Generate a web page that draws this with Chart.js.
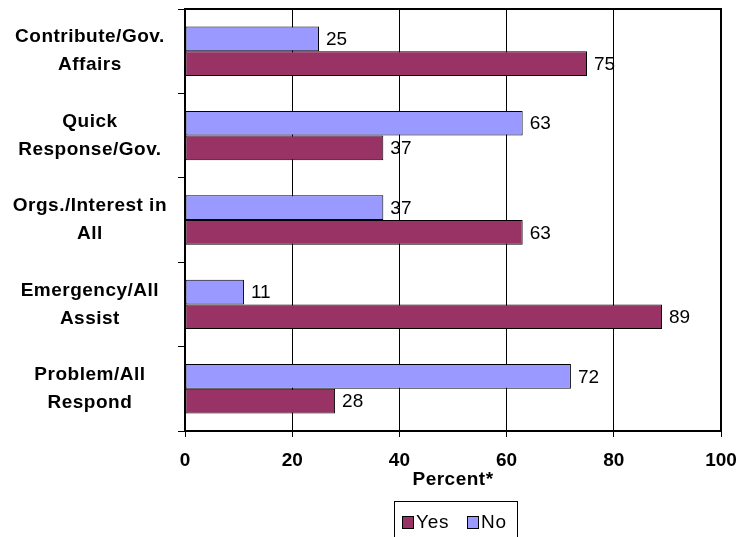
<!DOCTYPE html>
<html>
<head>
<meta charset="utf-8">
<script src="https://cdn.jsdelivr.net/npm/chart.js@4/dist/chart.umd.min.js"></script>
<style>
  html, body { margin: 0; padding: 0; background: #fff; overflow: hidden; }
  #wrap { position: relative; width: 739px; height: 537px; overflow: hidden; }
  #legend {
    position: absolute; left: 394px; top: 501px; width: 124px; height: 40px;
    border: 1px solid #000; box-sizing: border-box;
    font: 19px "Liberation Sans", Arial, sans-serif; color: #000; letter-spacing: 0.8px;
  }
  #legend .item { position: absolute; top: 9px; white-space: nowrap; }
  #legend .sw { display: inline-block; width: 10px; height: 11px; border: 1px solid #000; margin-right: 2px; vertical-align: -1px; }
</style>
</head>
<body>
<div id="wrap">
  <canvas id="chart" width="739" height="537"></canvas>
  <div id="legend"></div>
</div>
<script>
// categories, top to bottom
const categories = [
  ['Contribute/Gov.', 'Affairs'],
  ['Quick', 'Response/Gov.'],
  ['Orgs./Interest in', 'All'],
  ['Emergency/All', 'Assist'],
  ['Problem/All', 'Respond']
];
const yesValues = [75, 37, 63, 89, 28];
const noValues = [25, 63, 37, 11, 72];
const xTicks = [0, 20, 40, 60, 80, 100];

const FONT = '"Liberation Sans", Arial, sans-serif';

// the original text is set a little wider than Arial
const wideText = {
  id: 'wideText',
  beforeLayout(chart) { chart.ctx.letterSpacing = '0.5px'; },
  beforeDraw(chart) { chart.ctx.letterSpacing = '0.5px'; }
};

// numbers are not spaced out
function plainDigits(scale) {
  if (scale._plainPatched) return;
  scale._plainPatched = true;
  const orig = scale.drawLabels;
  scale.drawLabels = function (area) {
    const ctx = this.ctx;
    ctx.save();
    ctx.letterSpacing = '0px';
    orig.call(this, area);
    ctx.restore();
  };
}

// value labels at the end of each bar
const barLabels = {
  id: 'barLabels',
  afterDatasetsDraw(chart) {
    const ctx = chart.ctx;
    ctx.save();
    ctx.letterSpacing = '0px';
    ctx.font = '19px ' + FONT;
    ctx.fillStyle = '#000';
    ctx.textAlign = 'left';
    ctx.textBaseline = 'middle';
    chart.data.datasets.forEach((ds, i) => {
      chart.getDatasetMeta(i).data.forEach((bar, j) => {
        ctx.fillText(String(ds.data[j]), bar.x + 7, bar.y + 1);
      });
    });
    ctx.restore();
  }
};

// plot area frame (top and right side)
const plotFrame = {
  id: 'plotFrame',
  afterDraw(chart) {
    const a = chart.chartArea;
    const ctx = chart.ctx;
    ctx.save();
    ctx.strokeStyle = '#000';
    ctx.lineWidth = 2;
    ctx.beginPath();
    ctx.moveTo(a.left, a.top);
    ctx.lineTo(a.right, a.top);
    ctx.lineTo(a.right, a.bottom);
    ctx.stroke();
    ctx.restore();
  }
};

const chart = new Chart(document.getElementById('chart').getContext('2d'), {
  type: 'bar',
  data: {
    labels: categories,
    datasets: [
      { label: 'No', data: noValues, backgroundColor: '#9999FF', borderColor: '#000', borderWidth: 1, borderSkipped: false },
      { label: 'Yes', data: yesValues, backgroundColor: '#993366', borderColor: '#000', borderWidth: 1, borderSkipped: false }
    ]
  },
  options: {
    indexAxis: 'y',
    responsive: false,
    animation: false,
    layout: { padding: { left: 0, right: 18, top: 9, bottom: 46 } },
    datasets: { bar: { categoryPercentage: 0.585, barPercentage: 1.0 } },
    scales: {
      x: {
        min: 0, max: 100,
        afterBuildTicks(scale) { scale.ticks = xTicks.map(v => ({ value: v })); },
        afterFit(scale) {
          scale.height = 60;
          scale.paddingLeft = 0;
          scale.paddingRight = 0;
          plainDigits(scale);
        },
        ticks: { color: '#000', font: { family: FONT, size: 19, weight: 'bold' }, padding: 12 },
        grid: { color: '#000', lineWidth: 1, tickLength: 6, drawTicks: true },
        border: { color: '#000', width: 2 },
        title: {
          display: true, text: 'Percent*', color: '#000',
          font: { family: FONT, size: 19, weight: 'bold' },
          padding: { top: 0, bottom: 0 }
        }
      },
      y: {
        afterFit(scale) {
          scale.width = 185;
          scale.paddingTop = 0;
          scale.paddingBottom = 0;
        },
        ticks: {
          color: '#000', crossAlign: 'center', padding: 11,
          font: { family: FONT, size: 19, weight: 'bold', lineHeight: 1.47 }
        },
        grid: { drawOnChartArea: false, color: '#000', tickLength: 7 },
        border: { color: '#000', width: 2 }
      }
    },
    plugins: {
      legend: { display: false },
      tooltip: { enabled: false }
    }
  },
  plugins: [wideText, barLabels, plotFrame]
});

// legend: Yes first, then No
const legendEl = document.getElementById('legend');
const legendLeft = [7, 72];
chart.data.datasets.slice().reverse().forEach((ds, k) => {
  const item = document.createElement('span');
  item.className = 'item';
  item.style.left = legendLeft[k] + 'px';
  const sw = document.createElement('span');
  sw.className = 'sw';
  sw.style.background = ds.backgroundColor;
  item.appendChild(sw);
  item.appendChild(document.createTextNode(ds.label));
  legendEl.appendChild(item);
});
</script>
</body>
</html>
